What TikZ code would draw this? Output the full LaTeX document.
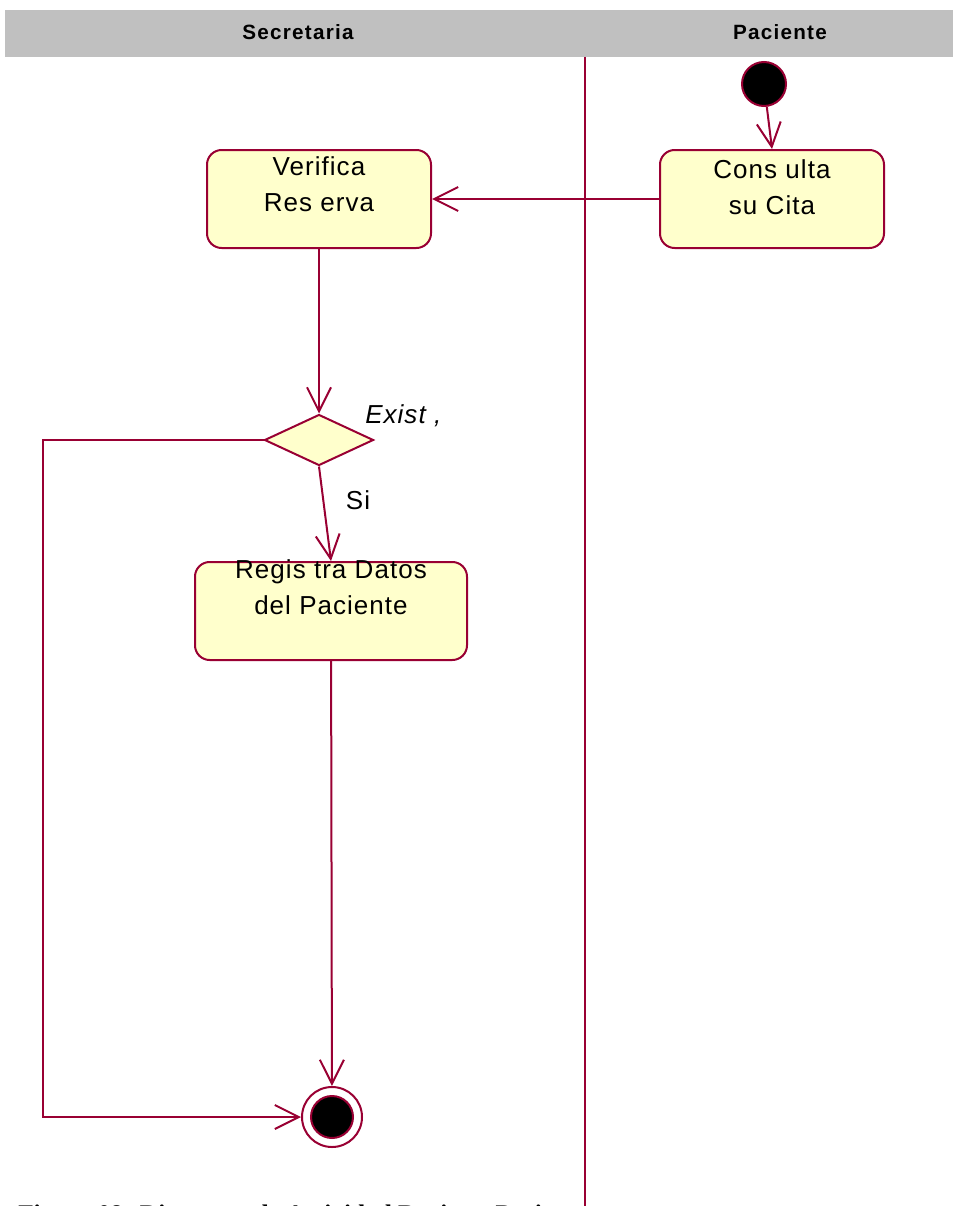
\documentclass[tikz,border=0pt]{standalone}
\usepackage{fontspec}
\setmainfont{Liberation Sans}
\newfontfamily\actfont[LetterSpace=4]{Liberation Sans}
\newfontfamily\lanefont[LetterSpace=6]{Liberation Sans}
\newfontfamily\capfont{Liberation Serif}
\usetikzlibrary{positioning, arrows.meta, shapes.geometric, calc}
\definecolor{umlrojo}{RGB}{153,0,51}
\definecolor{umlfondo}{RGB}{255,255,204}
\definecolor{carril}{RGB}{192,192,192}
\tikzset{arco/.style={line width=1.5pt, draw=umlrojo, -{Straight Barb[length=18pt,width=18pt]}}}
\tikzset{linea/.style={line width=1.5pt, draw=umlrojo}}
\tikzset{actividad/.style={draw=umlrojo, line width=1.5pt, fill=umlfondo, rounded corners=11pt, minimum width=168pt, minimum height=73.5pt, inner sep=0pt}}
\tikzset{texto/.style={font=\actfont\fontsize{19.5}{27}\selectfont, align=center, inner sep=0pt, anchor=north}}

\begin{document}
\begin{tikzpicture}[
                x=0.75pt, y=-0.75pt,
                every node/.style={inner sep=0pt}
            ]
                \clip (0,0) rectangle (953,1206);
                % carriles
                \fill[carril] (5,10) rectangle (953,57);
                \node[font=\lanefont\bfseries\fontsize{15.5}{17}\selectfont] (sec) at (298,32) {Secretaria};
                \node[font=\lanefont\bfseries\fontsize{15.5}{17}\selectfont] (pac) at (780,32) {Paciente};
                \node[anchor=base west, font=\capfont\bfseries\fontsize{19}{21}\selectfont] (titulo) at (18,1222) {Figura 08: Diagrama de Actividad Registro Paciente};
                \coordinate (sepa) at (585,57);
                \coordinate (sepb) at (585,1206);
                \draw[linea] (sepa) -- (sepb);

                % nodos
                \node[circle, draw=umlrojo, line width=1.5pt, fill=black, minimum size=33pt] (ini) at (764,84) {};
                \node[actividad] (cons) at (772,199) {};
                \node[texto] at ($(cons.north)+(0,10)$) {Cons ulta\\su Cita};
                \node[actividad] (ver) at (319,199) {};
                \node[texto] at ($(ver.north)+(0,7)$) {Verifica\\Res erva};
                \node[diamond, draw=umlrojo, line width=1.5pt, fill=umlfondo, aspect=2.14, minimum width=81.75pt, minimum height=38.25pt] (dec) at (319,440) {};
                \node[anchor=base west, font=\actfont\itshape\fontsize{19.5}{27}\selectfont] (exist) at (365,423) {Exist ,};
                \node[actividad, minimum width=204pt] (reg) at (331,611) {};
                \node[texto] at ($(reg.north)+(0,-2)$) {Regis tra Datos\\del Paciente};
                \node[font=\actfont\fontsize{19.5}{27}\selectfont] (si) at (358,500) {Si};
                \node[circle, draw=umlrojo, line width=1.5pt, fill=white, minimum size=45pt] (fin) at (332,1117) {};
                \node[circle, draw=umlrojo, line width=1.5pt, fill=black, minimum size=31.5pt] (finb) at (fin) {};

                % transiciones
                \draw[arco] (ini) to [] (cons.north);
                \draw[arco] (cons) to [] (ver);
                \draw[arco] (ver) to [] (dec);
                \draw[arco] (dec.south) to [] (reg.north);
                \draw[arco] (reg) to [] (fin);
                \draw[arco] (dec.west) -- (43,440) |- (fin.west);
            \end{tikzpicture}
\end{document}
